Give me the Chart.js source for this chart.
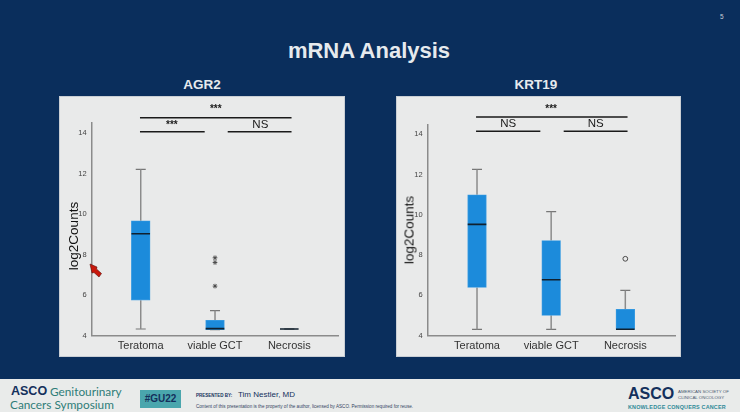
<!DOCTYPE html>
<html>
<head>
<meta charset="utf-8">
<title>mRNA Analysis</title>
<script src="https://cdn.jsdelivr.net/npm/chart.js@4/dist/chart.umd.js"></script>
<style>
	html,body{margin:0;padding:0;}
	body{width:740px;height:412px;overflow:hidden;position:relative;background:#0a2e5c;font-family:"Liberation Sans",Arial,sans-serif;}
	.abs{position:absolute;white-space:nowrap;}
	.panel{position:absolute;top:97px;height:259px;background:#e9eaea;box-shadow:0 0 0 1px #c9ced4;}
	.panel canvas{position:absolute;left:0;top:0;}
	.slideTitle{left:0;width:738px;top:38px;text-align:center;font-size:22px;font-weight:bold;color:#e6eaee;}
	.chartTitle{top:77px;font-size:13.5px;font-weight:bold;color:#e6eaee;transform:translateX(-50%);}
	.yTitle{font-size:13.5px;color:#111;transform:translate(-50%,-50%) rotate(-90deg);}
	#footer{position:absolute;left:0;top:379px;width:740px;height:33px;background:#e9ebea;}
</style>
</head>
<body>
	<div class="abs slideTitle">mRNA Analysis</div>
	<div class="abs" style="left:720px;top:13px;font-size:6.5px;color:#c8d0da;">5</div>

	<div class="abs chartTitle" style="left:202px;">AGR2</div>
	<div class="abs chartTitle" style="left:536px;">KRT19</div>

	<div class="panel" style="left:60px;width:284px;"><canvas id="agr2Chart" width="284" height="259"></canvas></div>
	<div class="panel" style="left:397px;width:283px;"><canvas id="krt19Chart" width="283" height="259"></canvas></div>

	<div class="abs yTitle" style="left:73px;top:236px;">log2Counts</div>
	<div class="abs yTitle" style="left:409px;top:229.5px;">log2Counts</div>

	<!-- pointer left on the slide -->
	<svg class="abs" style="left:89px;top:263px;" width="14" height="15" viewBox="0 0 14 15">
		<polygon points="1,1 8,4 7.5,6 12.5,10.5 10,14 5,9.5 3,10" fill="#c8180c" stroke="#5a0d08" stroke-width="0.6"/>
	</svg>

	<div id="footer">
		<div class="abs" style="left:11px;top:5px;font-size:12.5px;font-weight:bold;color:#14305c;">ASCO</div>
		<div class="abs" style="left:50px;top:5px;font-size:11.8px;color:#2f7d78;font-family:Lato,sans-serif;">Genitourinary</div>
		<div class="abs" style="left:10px;top:18px;font-size:11.8px;color:#2f7d78;font-family:Lato,sans-serif;">Cancers Symposium</div>
		<div class="abs" style="left:140px;top:11px;width:41px;height:18px;line-height:18px;text-align:center;background:#4aa6ad;font-size:10px;font-weight:bold;color:#14305c;">#GU22</div>
		<div class="abs" style="left:196px;top:14px;font-size:4.5px;font-weight:bold;color:#14305c;">PRESENTED BY:</div>
		<div class="abs" style="left:238px;top:11px;font-size:8px;color:#14305c;">Tim Nestler, MD</div>
		<div class="abs" style="left:196px;top:25px;font-size:4.6px;color:#33445f;">Content of this presentation is the property of the author, licensed by ASCO. Permission required for reuse.</div>
		<div class="abs" style="left:628px;top:6px;font-size:16px;font-weight:bold;color:#14305c;">ASCO</div>
		<div class="abs" style="left:678px;top:10px;font-size:4.4px;line-height:6px;color:#4a5a70;">AMERICAN SOCIETY OF<br>CLINICAL ONCOLOGY</div>
		<div class="abs" style="left:628px;top:25px;font-size:5.4px;font-weight:bold;letter-spacing:0.2px;color:#2f8a98;">KNOWLEDGE CONQUERS CANCER</div>
	</div>

<script>
	var categories=["Teratoma","viable GCT","Necrosis"];
	var yTickValues=[4,6,8,10,12,14];

	// five number summaries, one entry per category
	var agr2Low=[4.33,4.3,4.33];
	var agr2Q1=[5.75,4.3,4.33];
	var agr2Median=[9.04,4.35,4.33];
	var agr2Q3=[9.68,4.76,4.33];
	var agr2High=[12.22,5.24,4.33];
	var agr2OutlierCategory=[2,2,2];
	var agr2OutlierValue=[7.85,7.62,6.45];

	var krt19Low=[4.31,4.31,4.31];
	var krt19Q1=[6.4,5.01,4.31];
	var krt19Median=[9.53,6.78,4.32];
	var krt19Q3=[11.0,8.73,5.31];
	var krt19High=[12.26,10.16,6.25];
	var krt19OutlierCategory=[3];
	var krt19OutlierValue=[7.82];

	// significance bars: start, end and height on the axes
	var agr2BarStart=[0.99,0.99,2.171];
	var agr2BarEnd=[3.03,1.861,3.03];
	var agr2BarLevel=[14.77,14.08,14.08];
	var agr2SigText=["***","***","NS"];
	var agr2SigX=[2.01,1.42,2.61];
	var agr2SigY=[15.2,14.42,14.4];

	var krt19BarStart=[0.987,0.987,2.169];
	var krt19BarEnd=[3.03,1.854,3.03];
	var krt19BarLevel=[14.86,14.15,14.15];
	var krt19SigText=["***","NS","NS"];
	var krt19SigX=[2.0,1.42,2.6];
	var krt19SigY=[15.25,14.5,14.5];

	var sigLabels={
		id:"sigLabels",
		afterDatasetsDraw:function(chart,args,opts) {
			var ctx=chart.ctx;
			ctx.save();
			ctx.fillStyle="#1a1a1a";
			ctx.textAlign="center";
			ctx.textBaseline="middle";
			opts.text.forEach(function(t,i) {
				ctx.font=t=="NS"?"11.5px 'Liberation Sans'":"bold 10px 'Liberation Sans'";
				ctx.fillText(t,chart.scales.x.getPixelForValue(opts.x[i]),chart.scales.y.getPixelForValue(opts.y[i]));
			});
			ctx.restore();
		}
	};

	function toPoints(values) {
		return values.map(function(v,i) { return {x:i+1,y:v}; });
	}

	function generateBoxChart(selector,d) {
		var boxes=d.q1.map(function(v,i) { return {x:i+1,y:[v,d.q3[i]]}; });
		var whiskers=[];
		d.low.forEach(function(v,i) {
			whiskers.push({x:i+1,y:v},{x:i+1,y:d.q1[i]},{x:null,y:null});
			whiskers.push({x:i+1,y:d.q3[i]},{x:i+1,y:d.high[i]},{x:null,y:null});
		});
		var brackets=[];
		d.barStart.forEach(function(v,i) {
			brackets.push({x:v,y:d.barLevel[i]},{x:d.barEnd[i],y:d.barLevel[i]},{x:null,y:null});
		});
		var outliers=d.outlierCategory.map(function(c,i) { return {x:c,y:d.outlierValue[i]}; });

		new Chart(document.getElementById(selector),{
			type:"line",
			plugins:[sigLabels],
			data:{
				datasets:[
					{type:"line",data:whiskers,borderColor:"#8b8b8b",borderWidth:1.5,pointRadius:0,spanGaps:false,order:4},
					{type:"line",data:toPoints(d.low),showLine:false,pointStyle:"line",pointRadius:5,pointBorderColor:"#777",pointBorderWidth:1.2,order:4},
					{type:"line",data:toPoints(d.high),showLine:false,pointStyle:"line",pointRadius:5,pointBorderColor:"#777",pointBorderWidth:1.2,order:4},
					{type:"bar",data:boxes,barThickness:18.7,backgroundColor:"#1c8bdb",borderColor:"#3b9de2",borderWidth:0.8,borderSkipped:false,order:3},
					{type:"line",data:toPoints(d.median),showLine:false,pointStyle:"line",pointRadius:9.3,pointBorderColor:"#10202e",pointBorderWidth:1.6,order:2},
					{type:"line",data:outliers,showLine:false,pointStyle:d.outlierStyle,pointRadius:d.outlierRadius,pointBackgroundColor:"#e9eaea",pointBorderColor:"#4a4a4a",pointBorderWidth:1,order:2},
					{type:"line",data:brackets,borderColor:"#1a1a1a",borderWidth:1.5,pointRadius:0,spanGaps:false,clip:false,order:1}
				]
			},
			options:{
				responsive:false,
				animation:false,
				events:[],
				layout:{autoPadding:false,padding:{top:d.top,right:d.right,left:0,bottom:0}},
				plugins:{
					legend:{display:false},
					tooltip:{enabled:false},
					sigLabels:{text:d.sigText,x:d.sigX,y:d.sigY}
				},
				scales:{
					x:{
						type:"linear",
						offset:false,
						min:d.xMin,
						max:d.xMax,
						grid:{display:false,drawTicks:false},
						border:{color:"#8b8b8b",width:1.5},
						afterBuildTicks:function(scale) { scale.ticks=categories.map(function(c,i) { return {value:i+1}; }); },
						afterFit:function(scale) { scale.height=20.3; },
						ticks:{
							autoSkip:false,
							maxRotation:0,
							padding:4,
							color:"#333",
							font:{family:"'Liberation Sans'",size:11},
							callback:function(v) { return categories[v-1]; }
						}
					},
					y:{
						min:4,
						max:d.yMax,
						grid:{display:false,drawTicks:false},
						border:{color:"#8b8b8b",width:1.5},
						afterBuildTicks:function(scale) { scale.ticks=yTickValues.map(function(v) { return {value:v}; }); },
						afterFit:function(scale) { scale.width=d.axisLeft; },
						ticks:{
							padding:5,
							color:"#444",
							font:{family:"'Liberation Sans'",size:7.5}
						}
					}
				}
			}
		});
	}

	generateBoxChart("agr2Chart",{
		low:agr2Low,q1:agr2Q1,median:agr2Median,q3:agr2Q3,high:agr2High,
		outlierCategory:agr2OutlierCategory,outlierValue:agr2OutlierValue,outlierStyle:"star",outlierRadius:2.3,
		barStart:agr2BarStart,barEnd:agr2BarEnd,barLevel:agr2BarLevel,
		sigText:agr2SigText,sigX:agr2SigX,sigY:agr2SigY,
		top:26,right:5.3,axisLeft:31.7,xMin:0.34,xMax:3.665,yMax:14.51
	});
	generateBoxChart("krt19Chart",{
		low:krt19Low,q1:krt19Q1,median:krt19Median,q3:krt19Q3,high:krt19High,
		outlierCategory:krt19OutlierCategory,outlierValue:krt19OutlierValue,outlierStyle:"circle",outlierRadius:2.4,
		barStart:krt19BarStart,barEnd:krt19BarEnd,barLevel:krt19BarLevel,
		sigText:krt19SigText,sigX:krt19SigX,sigY:krt19SigY,
		top:27.3,right:5,axisLeft:30.7,xMin:0.335,xMax:3.67,yMax:14.5
	});
</script>
</body>
</html>
